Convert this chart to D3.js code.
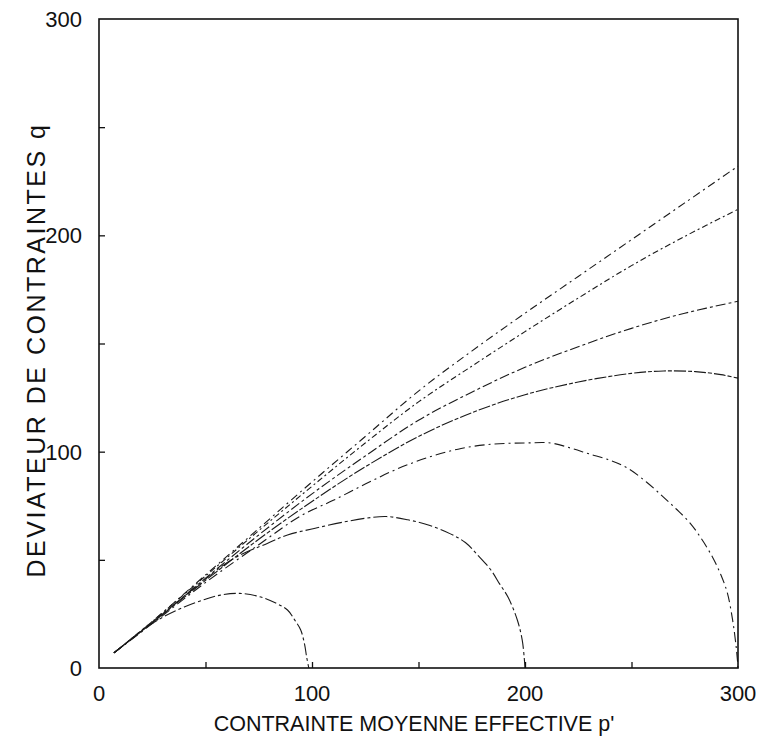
<!DOCTYPE html>
<html><head><meta charset="utf-8">
<script src="https://cdn.jsdelivr.net/npm/d3@7/dist/d3.min.js"></script>
<style>body{margin:0;background:#fff}text{font-family:"Liberation Sans",Arial,Helvetica,sans-serif;fill:#111}</style>
</head><body>
<svg id="chart" width="760" height="739"></svg>
<script>
// ---- data ----
const xTickLabels = [0, 100, 200, 300];
const yTickLabels = [0, 100, 200, 300];
const innerTicks = [50, 100, 150, 200, 250];
const xTitle = "CONTRAINTE MOYENNE EFFECTIVE p'";
const yTitle = "DEVIATEUR DE CONTRAINTES q";

const path1 = [[7,7],[14,12.5],[21,18],[30,23.5],[40,28.2],[50,31.8],[57,33.7],[66,34.5],[76,32.8],[83,30],[88.5,26.8],[92,22],[94.7,17.6],[96.5,11],[97.5,5],[98.5,0]];
const path2 = [[7,7],[25,21],[48,39.5],[63,50.5],[79,57.6],[88.5,61.5],[101,64.5],[115,67.5],[125,69.2],[135,70],[145,68.5],[155,66],[165,62],[172,58],[178,52],[184,45.3],[188,39],[192,32.8],[196.4,22.2],[198.7,12.9],[199.7,4],[200,0]];
const path3 = [[7,7],[25,20.5],[50,39.5],[75,57],[95,70.5],[110,77.5],[125,85],[140,92],[155,97.5],[170,101.5],[185,103.5],[200,104],[212,104],[222,101.5],[230,99],[240,96],[248,92.5],[257,86],[265,79],[271,73.5],[277.5,67],[283,59.5],[288,51.3],[292,43],[295,34.7],[297.5,22],[299,11],[299.7,4],[300,0]];
const path4 = [[7,7],[25,21],[50,40.5],[75,59.5],[100,77],[125,93],[150,107],[175,118],[200,126.3],[225,132.2],[250,136.2],[265,137.3],[280,137],[292,135.6],[300,134]];
const path5 = [[7,7],[25,21],[50,41.5],[75,61.5],[100,80.5],[125,98],[150,114.5],[175,127.5],[200,139],[225,148.5],[250,157],[275,164],[300,169.5]];
const path6 = [[7,7],[25,21.5],[50,42.5],[75,63.5],[100,84],[125,104],[150,123],[175,139.5],[200,155.5],[225,171],[250,186],[275,199.5],[300,212]];
const path7 = [[7,7],[25,21.5],[50,43],[75,64.5],[100,86],[125,107],[150,128],[175,146.5],[200,164],[225,181],[250,198],[275,215],[300,232]];
const seriesList = [path1, path2, path3, path4, path5, path6, path7];
const dashes = ["12,3,3,3", "14,3,3,3", "10,4,2,4", "12,2,4,2", "10,3,3,3", "6,3,2,3", "8,4,2,4"];

// ---- drawing ----
const svg = d3.select("#chart");
const x = d3.scaleLinear().domain([0, 300]).range([99, 738]);
const y = d3.scaleLinear().domain([0, 300]).range([668, 19]);

const line = d3.line().x(d => x(d[0])).y(d => y(d[1])).curve(d3.curveCatmullRom.alpha(0.5));

svg.append("g").selectAll("path").data(seriesList).join("path")
  .attr("d", line)
  .attr("fill", "none")
  .attr("stroke", "#1a1a1a")
  .attr("stroke-width", 1.1)
  .attr("stroke-dasharray", (d, i) => dashes[i]);

// inward ticks
const gx = svg.append("g").attr("transform", `translate(0,${y(0)})`)
  .call(d3.axisBottom(x).tickValues(innerTicks).tickSize(-6).tickFormat(""));
const gy = svg.append("g").attr("transform", `translate(${x(0)},0)`)
  .call(d3.axisLeft(y).tickValues(innerTicks).tickSize(-6).tickFormat(""));
[gx, gy].forEach(g => { g.select(".domain").remove(); g.selectAll("line").attr("stroke", "#111").attr("stroke-width", 1.3); });

// frame
svg.append("rect")
  .attr("x", x(0)).attr("y", y(300))
  .attr("width", x(300) - x(0)).attr("height", y(0) - y(300))
  .attr("fill", "none").attr("stroke", "#111").attr("stroke-width", 1.6);

// tick labels
svg.append("g").selectAll("text").data(xTickLabels).join("text")
  .attr("x", d => x(d)).attr("y", 701)
  .attr("text-anchor", "middle").attr("font-size", 22)
  .text(d => d);
svg.append("g").selectAll("text").data(yTickLabels).join("text")
  .attr("x", 82).attr("y", d => y(d) + 8)
  .attr("text-anchor", "end").attr("font-size", 22)
  .text(d => d);

// titles
svg.append("text").attr("x", 414).attr("y", 731)
  .attr("text-anchor", "middle").attr("font-size", 21.5)
  .text(xTitle);
svg.append("text")
  .attr("transform", "translate(45,350) rotate(-90)")
  .attr("text-anchor", "middle").attr("font-size", 25)
  .attr("letter-spacing", 2.5)
  .text(yTitle);
</script>
</body></html>
